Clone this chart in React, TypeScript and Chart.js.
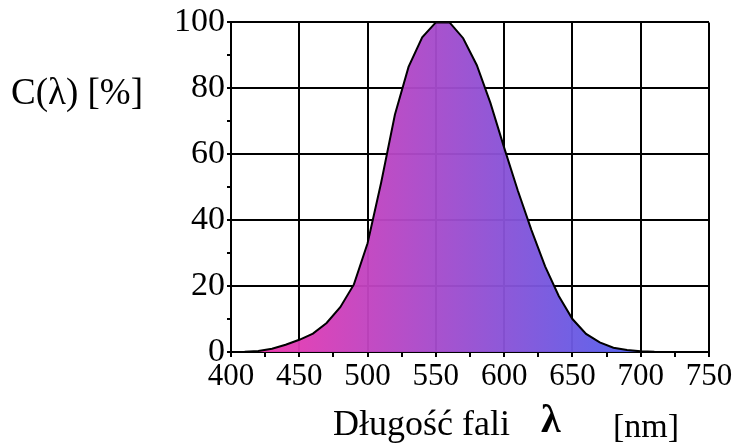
import React, { useEffect, useRef } from "react";
import { Chart, registerables } from "chart.js";

Chart.register(...registerables);

const wavelengths = [400, 410, 420, 430, 440, 450, 460, 470, 480, 490, 500, 510, 520, 530, 540, 550, 560, 570, 580, 590, 600, 610, 620, 630, 640, 650, 660, 670, 680, 690, 700, 710, 720, 730, 740, 750];
const sensitivity = [0, 0.1, 0.3, 1.0, 2.2, 3.7, 5.6, 8.8, 13.6, 20.5, 33, 51.5, 72, 86.5, 95.5, 100, 100, 95.2, 87, 75.5, 62, 49, 37, 26, 17, 10, 5.5, 2.9, 1.3, 0.6, 0.2, 0.05, 0, 0, 0, 0];

const xMin = 400;
const xMax = 750;
const xStep = 25;
const xMajor = 50;
const yMin = 0;
const yMax = 100;
const yStep = 10;
const yMajor = 20;

const yLabelText = "C(λ) [%]";
const xTitleMain = "Długość fali";
const xTitleSymbol = "λ";
const xTitleUnit = "[nm]";

const FONT = "'Liberation Serif', 'Times New Roman', serif";

const titlesPlugin = {
  id: "titles",
  afterDraw(chart: any) {
    const c = chart.ctx;
    c.save();
    c.fillStyle = "#000";
    c.textBaseline = "alphabetic";
    c.textAlign = "left";
    c.font = `37px ${FONT}`;
    c.fillText(yLabelText, 11, 104);
    c.font = `36px ${FONT}`;
    c.fillText(xTitleMain, 333, 435);
    c.font = `bold 40px ${FONT}`;
    c.fillText(xTitleSymbol, 541, 432);
    c.font = `34px ${FONT}`;
    c.fillText(xTitleUnit, 613, 437);
    c.restore();
  },
};

export default function App() {
  const ref = useRef<HTMLCanvasElement | null>(null);

  useEffect(() => {
    if (!ref.current) return;
    const points = wavelengths.map((x, i) => ({ x, y: sensitivity[i] }));
    const chart = new Chart(ref.current, {
      type: "line",
      data: {
        datasets: [
          {
            data: points,
            borderColor: "#000",
            borderWidth: 2,
            pointRadius: 0,
            tension: 0,
            fill: "origin",
            backgroundColor: (ctx: any) => {
              const ch = ctx.chart;
              const area = ch.chartArea;
              if (!area) return "rgba(200,60,200,1)";
              const sx = ch.scales.x;
              const g = ch.ctx.createLinearGradient(sx.getPixelForValue(400), 0, sx.getPixelForValue(700), 0);
              g.addColorStop(0, "rgba(250,53,169,0.96)");
              g.addColorStop(1, "rgba(80,97,238,0.96)");
              return g;
            },
          },
        ],
      },
      options: {
        animation: false,
        responsive: false,
        maintainAspectRatio: false,
        devicePixelRatio: 1,
        layout: { padding: { left: 0, right: 27, top: 20, bottom: 0 } },
        plugins: { legend: { display: false }, tooltip: { enabled: false }, title: { display: false } },
        scales: {
          x: {
            type: "linear",
            min: xMin,
            max: xMax,
            afterFit: (s: any) => {
              s.height = 93;
            },
            ticks: {
              stepSize: xStep,
              autoSkip: false,
              maxRotation: 0,
              color: "#000",
              padding: 1,
              font: { family: FONT, size: 31 },
              callback: (v: any) => (Number(v) % xMajor === 0 ? String(v) : ""),
            },
            grid: {
              color: (c: any) => (c.tick && c.tick.value % xMajor === 0 ? "#000" : "rgba(0,0,0,0)"),
              tickColor: "#000",
              lineWidth: 2,
              tickLength: 5,
            },
            border: { display: true, color: "#000", width: 2 },
          },
          y: {
            type: "linear",
            min: yMin,
            max: yMax,
            afterFit: (s: any) => {
              s.width = 231;
            },
            ticks: {
              stepSize: yStep,
              autoSkip: false,
              color: "#000",
              padding: 2,
              font: { family: FONT, size: 34 },
              callback: (v: any) => (Number(v) % yMajor === 0 ? String(v) : ""),
            },
            grid: {
              color: (c: any) => (c.tick && c.tick.value % yMajor === 0 ? "#000" : "rgba(0,0,0,0)"),
              tickColor: "#000",
              lineWidth: 2,
              tickLength: 4,
            },
            border: { display: true, color: "#000", width: 2 },
          },
        },
      },
      plugins: [titlesPlugin],
    });
    return () => chart.destroy();
  }, []);

  return (
    <div style={{ position: "absolute", left: 0, top: 0, width: 736, height: 445, background: "#fff" }}>
      <canvas ref={ref} width={736} height={445} style={{ display: "block", width: 736, height: 445 }} />
    </div>
  );
}
